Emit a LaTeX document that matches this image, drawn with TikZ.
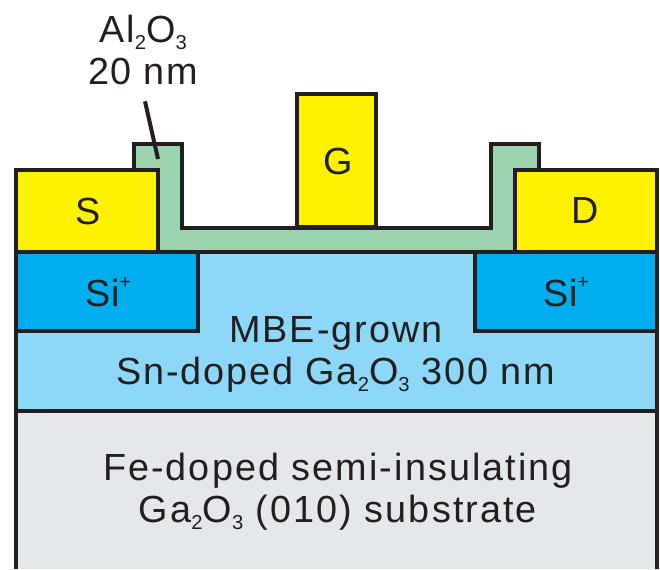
\documentclass[tikz,border=0pt]{standalone}
\usepackage{fontspec}
\setmainfont[LetterSpace=2.0]{Liberation Sans}
\usepackage{xcolor}
\definecolor{ink}{HTML}{231F20}
\definecolor{metal}{HTML}{FFF200}
\definecolor{implant}{HTML}{00AEEF}
\definecolor{channel}{HTML}{8DD7F7}
\definecolor{oxide}{HTML}{9BD3AE}
\definecolor{substrate}{HTML}{E6E7E8}
\newcommand{\tracked}[2]{{\addfontfeature{LetterSpace=#1}#2}}
\newcommand{\chemsub}[1]{\raisebox{-4pt}{\fontsize{11.5}{11.5}\selectfont #1}}
\newcommand{\implantsup}{\raisebox{10pt}{\fontsize{11}{11}\selectfont +}}

\begin{document}
\begin{tikzpicture}[x=0.2mm,y=-0.2mm,
    layer/.style={draw=ink,line width=0.8mm,line join=miter,inner sep=0pt,outer sep=0pt,text=ink},
    contact/.style={layer,fill=metal},
    sourcedrain/.style={contact,minimum width=28.4mm,minimum height=16.4mm},
    siregion/.style={layer,fill=implant,minimum width=36.4mm,minimum height=15.8mm},
    tag/.style={inner sep=0pt,text=ink,font=\fontsize{21.5}{25}\selectfont},
    caption/.style={align=center,inner sep=0pt,text=ink,font=\fontsize{21.5}{24}\selectfont}]
    \useasboundingbox (0,0) rectangle (660,569);
    % layers
    \node[layer,fill=channel,minimum width=128.2mm,minimum height=31.8mm] (chan) at (336.5,331.5) {};
    \node[fill=substrate,inner sep=0pt,outer sep=0pt,minimum width=128.2mm,minimum height=31.6mm] (sub) at (336.5,490) {};
    \draw[layer] (chan.south west)--(sub.south west);
    \draw[layer] (chan.south east)--(sub.south east);
    \draw[layer] (chan.south west)--(chan.south east);
    % oxide
    \draw[layer,fill=oxide] (134,252)--(134,143.5)--(182,143.5)--(182,227.5)--(491,227.5)
        --(491,143.5)--(538.5,143.5)--(538.5,252)--cycle;
    % contacts
    \node[sourcedrain] (src) at (87,211) {};
    \node[sourcedrain] (drn) at (585.5,211) {};
    \node[contact,minimum width=15.8mm,minimum height=26.6mm] (gate) at (336.5,160.5) {};
    \node[tag] (srclabel) at (88,211) {S};
    \node[tag] (gatelabel) at (338,161) {G};
    \node[tag] (drnlabel) at (585,210) {D};
    \node[siregion] (siL) at (107,291.5) {};
    \node[siregion] (siR) at (565.5,291.5) {};
    \node[tag] (siLlabel) at (108,292) {Si\implantsup};
    \node[tag] (siRlabel) at (566,292) {Si\implantsup};
    % labels
    \node[caption] (oxlabel) at (143,50) {\tracked{6}{Al\chemsub{2}O\chemsub{3}}\\\tracked{4.2}{20 nm}};
    \node[caption] (chanlabel) at (336,354.5) {\tracked{5.3}{MBE-grown}\\\tracked{4.8}{Sn-doped Ga\chemsub{2}O\chemsub{3} 300 nm}};
    \node[caption] (sublabel) at (338,492) {\tracked{5.5}{Fe-doped semi-insulating}\\\tracked{5.5}{Ga\chemsub{2}O\chemsub{3} (010) substrate}};
    \coordinate (oxtip) at (158,159);
    \draw[layer] (oxlabel.south)++(2,16)--(oxtip);
\end{tikzpicture}
\end{document}
